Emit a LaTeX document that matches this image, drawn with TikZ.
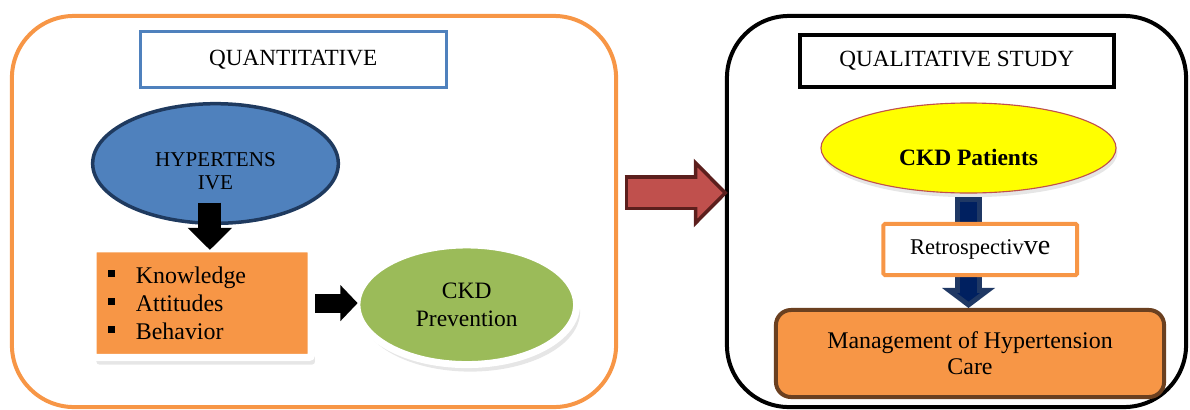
\documentclass[tikz,border=0pt]{standalone}
\usepackage{fontspec}
\setmainfont{Liberation Serif}
\usetikzlibrary{shapes.geometric,arrows.meta,shadows}

\definecolor{panelorange}{HTML}{F79646}
\definecolor{boxorange}{HTML}{F79646}
\definecolor{titleblue}{HTML}{4F81BD}
\definecolor{hypblue}{HTML}{4F81BD}
\definecolor{hypline}{HTML}{1F3A5F}
\definecolor{prevgreen}{HTML}{9BBB59}
\definecolor{arrowred}{HTML}{C0504D}
\definecolor{arrowredline}{HTML}{5C1F1D}
\definecolor{patyellow}{HTML}{FFFF00}
\definecolor{patline}{HTML}{C0504D}
\definecolor{navyfill}{HTML}{002060}
\definecolor{navyline}{HTML}{1F3864}
\definecolor{mgmtline}{HTML}{6B4020}

\newcommand{\lowtext}[2]{\raisebox{-#1}[\height][\depth]{#2}}
\newcommand{\bullit}{\rule[4.6pt]{4.7pt}{4.7pt}\hspace{15pt}}

\tikzset{
  panel/.style={draw, line width=0.1cm, rounded corners=1.55cm},
  headbox/.style={draw, fill=white, font=\fontsize{16.5}{18}\selectfont},
  bubble/.style={ellipse, inner sep=0pt},
  softshadow/.style={drop shadow={opacity=.2, shadow xshift=2.5pt, shadow yshift=-5pt}},
}

\begin{document}
\begin{tikzpicture}[x=0.025cm, y=-0.025cm]
  \useasboundingbox (0,0) rectangle (1190,409);

  % the two study panels
  \node[panel, draw=panelorange, minimum width=15.1cm, minimum height=9.775cm] (quanpanel) at (314,211.5) {};
  \node[panel, draw=black, minimum width=11.475cm, minimum height=9.775cm] (qualpanel) at (956.5,211.5) {};

  % quantitative side
  \node[headbox, draw=titleblue, line width=0.075cm, minimum width=7.65cm, minimum height=1.4cm] (quan) at (293.2,59.5) {QUANTITATIVE};
  \node[bubble, fill=hypblue, draw=hypline, line width=0.0875cm, minimum width=6.14cm, minimum height=2.99cm,
        font=\fontsize{15}{16}\selectfont] (hyp) at (215.5,163.5) {\lowtext{7pt}{\begin{tabular}{@{}c@{}}HYPERTENS\\IVE\end{tabular}}};
  \node[fill=boxorange, draw=white, line width=0.185cm, rounded corners=2pt, softshadow,
        minimum width=5.46cm, minimum height=2.72cm, text width=4.7cm, inner xsep=0.38cm, align=left,
        font=\fontsize{17}{20}\selectfont] (kab) at (202.2,303.1) {\bullit Knowledge\\\bullit Attitudes\\\bullit Behavior};
  \node[bubble, fill=prevgreen, draw=white, line width=0.175cm, softshadow, minimum width=5.49cm, minimum height=2.99cm,
        align=center, font=\fontsize{16.7}{20}\selectfont] (prev) at (466.75,304.75) {CKD\\Prevention};

  \draw[line width=0.58cm, -{Triangle[length=0.55cm, width=1.075cm]}] ([xshift=-4pt,yshift=15.9pt]hyp.south) -- ([xshift=-4pt,yshift=-3.5pt]hyp.south |- kab.north);
  \draw[line width=0.475cm, -{Triangle[length=0.43cm, width=0.875cm]}] (kab.east) -- ([xshift=3pt]kab.east -| prev.west);

  % from one study to the other
  \draw[arrowredline, line width=0.875cm, -{Triangle[length=0.85cm, width=1.7cm, fill=arrowred, line width=2.5pt]}]
    ([xshift=4.6pt,yshift=13.2pt]quanpanel.east) -- ([xshift=2pt,yshift=13.2pt]qualpanel.west);
  \draw[arrowred, line width=0.7cm, shorten <=2.5pt, shorten >=0.6cm]
    ([xshift=4.6pt,yshift=13.2pt]quanpanel.east) -- ([xshift=2pt,yshift=13.2pt]qualpanel.west);

  % qualitative side
  \node[headbox, draw=black, line width=0.1cm, minimum width=7.86cm, minimum height=1.3cm] (qual) at (956.8,61) {QUALITATIVE STUDY};
  \node[bubble, fill=patyellow, draw=patline, line width=0.8pt, drop shadow={opacity=.2, shadow xshift=1pt, shadow yshift=-3pt},
        minimum width=7.375cm, minimum height=2.25cm, font=\fontsize{16.7}{18}\selectfont\bfseries] (pat) at (968.5,148) {\lowtext{6.4pt}{CKD Patients}};
  \node[fill=boxorange, draw=mgmtline, line width=0.1cm, rounded corners=0.375cm, minimum width=9.7cm, minimum height=2.175cm,
        align=center, font=\fontsize{17}{18.5}\selectfont] (mgmt) at (970,353.5) {Management of Hypertension\\Care};

  \draw[navyline, line width=0.675cm, -{Triangle[length=0.5cm, width=1.3cm, fill=navyfill, line width=3.5pt]}]
    ([yshift=-2.5pt]pat.south) -- (pat.south |- mgmt.north);
  \draw[navyfill, line width=0.425cm, shorten <=3.5pt, shorten >=0.35cm]
    ([yshift=-2.5pt]pat.south) -- (pat.south |- mgmt.north);

  \node[fill=white, draw=boxorange, line width=0.1cm, rounded corners=1pt, minimum width=4.84cm, minimum height=1.275cm,
        font=\fontsize{16}{18}\selectfont] (retro) at (980.25,249.5) {Retrospectiv{\fontsize{20}{20}\selectfont ve}};
\end{tikzpicture}
\end{document}
